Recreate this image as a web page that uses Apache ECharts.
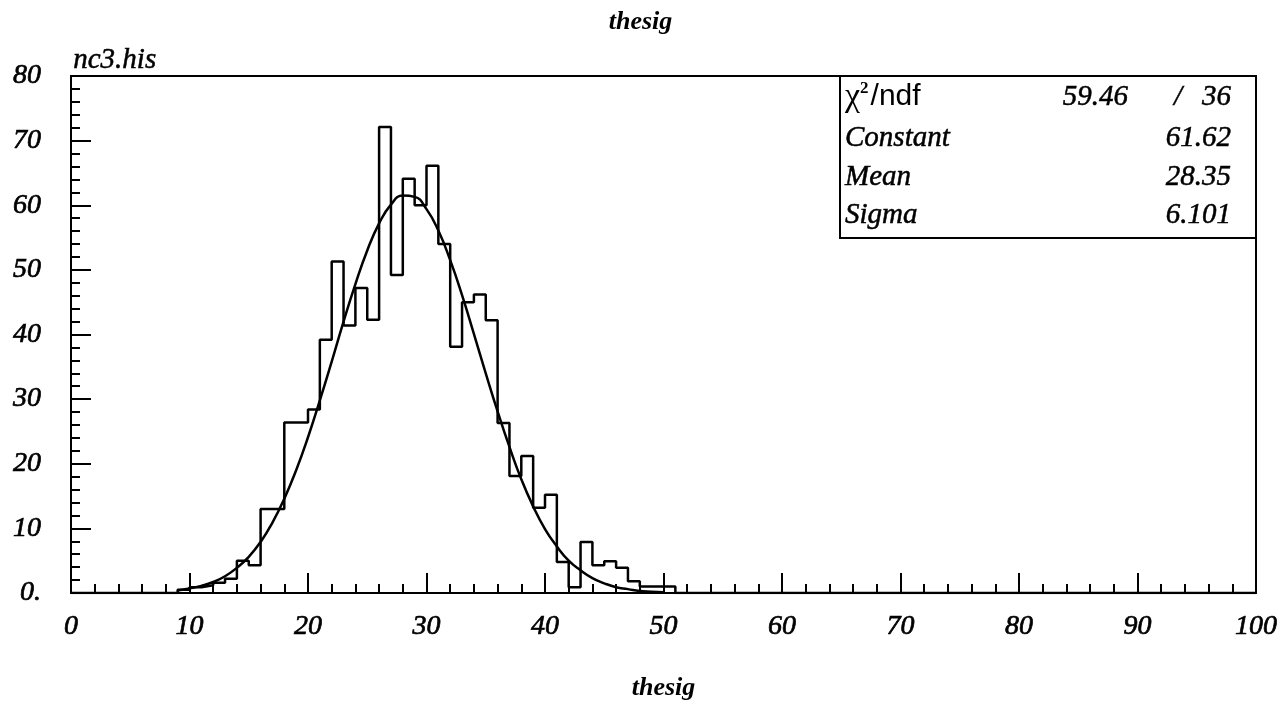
<!DOCTYPE html>
<html><head><meta charset="utf-8">
<script src="https://cdn.jsdelivr.net/npm/echarts@6/dist/echarts.min.js"></script>
<style>html,body{margin:0;padding:0;background:#fff}#c{width:1281px;height:711px}</style>
</head><body><div id="c"></div>
<script>
// ---- data ----
const chartTitle = 'thesig';
const xAxisTitle = 'thesig';
const histName = 'nc3.his';
const xMin = 0, xMax = 100, xStep = 10;
const yMin = 0, yMax = 80, yStep = 10;
const zeroLabel = '0.';
const nBins = 100;            // bins of width 1 from 0 to 100
const firstFilledBin = 9;     // bins before this are empty
const counts = [0.5,0.9,1.2,1.6,2.2,5,4.3,13,13,26.4,26.4,28.4,39.2,51.3,41.4,47.2,42.3,72.1,49.2,64.1,60,66.1,54,38.1,45,46.2,42.2,26.3,18.1,21.2,13.2,15.2,4.8,0.9,7.9,4.3,4.9,3.9,1.8,1,1,1];
const fitX = [9,10,11,12,13,14,15,16,17,18,19,20,21,22,23,24,25,26,27,28,29,30,31,32,33,34,35,36,37,38,39,40,41,42,43,44,45,46,47,48,49,50];
const fitY = [0.4,0.7,1.1,1.7,2.6,3.9,5.6,7.9,10.9,14.6,19.0,24.1,29.8,35.8,42.0,47.8,53.0,57.2,60.1,61.5,61.3,59.4,56.1,51.5,46.1,40.1,34.0,28.1,22.6,17.6,13.4,9.9,7.2,5.0,3.5,2.3,1.5,0.9,0.6,0.3,0.2,0.1];
const chi2Value = '59.46', ndfValue = '36';
const statLabels = ['Constant', 'Mean', 'Sigma'];
const statValues = ['61.62', '28.35', '6.101'];

// ---- build series data ----
const histData = [];
for (let k = 0; k <= nBins; k++) {
  const i = k - firstFilledBin;
  const v = (i >= 0 && i < counts.length) ? counts[i] : 0;
  histData.push([xMin + k * (xMax - xMin) / nBins, v]);
}
const fitData = fitX.map((x, i) => [x, fitY[i]]);

const serif = 'Liberation Serif';
const GL = 71, GR = 25, GT = 76, GB = 118;
const W = 1281, H = 711;

const chart = echarts.init(document.getElementById('c'), null, {renderer: 'canvas'});
const labelStyle = {fontFamily: serif, fontStyle: 'italic', fontSize: 28, color: '#000',
  textBorderColor: '#000', textBorderWidth: 0.7};
const statFont = 'italic 29px "Liberation Serif"';

const boxX = 840, boxY = GT, boxW = W - GR - 840, boxH = 162;
const rowY = [97, 138, 177, 215];
const txt = (x, y, text, align) => ({type: 'text', z: 11, x: x, y: y,
  style: {text: text, align: align, verticalAlign: 'middle', font: statFont, fill: '#000', stroke: '#000', lineWidth: 0.5}});
const graphics = [
  {type: 'rect', z: 10, shape: {x: boxX, y: boxY, width: boxW, height: boxH},
   style: {fill: '#fff', stroke: '#000', lineWidth: 2}},
  {type: 'text', z: 11, x: 845, y: rowY[0],
   style: {text: '{chi|χ}{sup|2}{sans|/ndf}', verticalAlign: 'middle',
     rich: {chi: {fontFamily: serif, fontSize: 34, fill: '#000'},
            sup: {fontFamily: serif, fontSize: 17, fontWeight: 'bold', verticalAlign: 'top', padding: [0,2,16,0], fill: '#000'},
            sans: {fontFamily: 'Liberation Sans', fontSize: 30, fill: '#000'}}}},
  txt(1128, rowY[0], chi2Value, 'right'),
  txt(1178, rowY[0], '/', 'center'),
  txt(1231, rowY[0], ndfValue, 'right'),
  {type: 'text', z: 11, left: GL + 2, top: 46,
   style: {text: histName, font: statFont, fill: '#000', stroke: '#000', lineWidth: 0.5}}
];
statLabels.forEach((lab, i) => {
  graphics.push(txt(845, rowY[i + 1], lab, 'left'));
  graphics.push(txt(1231, rowY[i + 1], statValues[i], 'right'));
});

chart.setOption({
  animation: false,
  backgroundColor: '#fff',
  title: {text: chartTitle, left: 'center', top: 4,
    textStyle: {fontFamily: serif, fontStyle: 'italic', fontWeight: 'bold', fontSize: 26, color: '#000'}},
  grid: {left: GL, right: GR, top: GT, bottom: GB, show: true, borderColor: '#000', borderWidth: 2, backgroundColor: 'transparent'},
  xAxis: {
    type: 'value', min: xMin, max: xMax, interval: xStep,
    name: xAxisTitle, nameLocation: 'middle', nameGap: 82,
    nameTextStyle: {fontFamily: serif, fontStyle: 'italic', fontWeight: 'bold', fontSize: 26, color: '#000'},
    axisLine: {show: true, onZero: false, lineStyle: {color: '#000', width: 2}},
    axisTick: {show: true, inside: true, length: 20, lineStyle: {color: '#000', width: 2}},
    minorTick: {show: true, splitNumber: 5, length: 9, lineStyle: {color: '#000', width: 2}},
    splitLine: {show: false},
    axisLabel: Object.assign({margin: 20}, labelStyle)
  },
  yAxis: {
    type: 'value', min: yMin, max: yMax, interval: yStep,
    axisLine: {show: true, lineStyle: {color: '#000', width: 2}},
    axisTick: {show: true, inside: true, length: 20, lineStyle: {color: '#000', width: 2}},
    minorTick: {show: true, splitNumber: 5, length: 9, lineStyle: {color: '#000', width: 2}},
    splitLine: {show: false},
    axisLabel: Object.assign({margin: 30, formatter: v => v === 0 ? zeroLabel : String(v)}, labelStyle)
  },
  graphic: graphics,
  series: [
    {type: 'line', name: 'hist', data: histData, step: 'end', showSymbol: false, symbol: 'none',
     lineStyle: {color: '#000', width: 2.5}, z: 3},
    {type: 'line', name: 'fit', data: fitData, smooth: true, showSymbol: false, symbol: 'none',
     lineStyle: {color: '#000', width: 2.5}, z: 4}
  ]
});
</script></body></html>
